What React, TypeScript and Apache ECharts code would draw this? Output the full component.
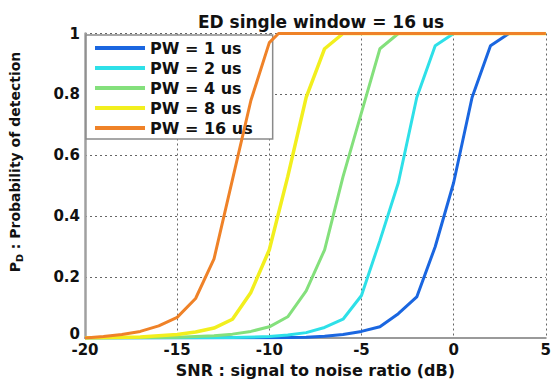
import React, { useEffect, useRef } from "react";
import * as echarts from "echarts";

const titleText = "ED single window = 16 us";
const xName = "SNR : signal to noise ratio (dB)";
const yNameRich = "{a|P}{b|D}{a| : Probability of detection}";
const seriesNames = ["PW = 1 us", "PW = 2 us", "PW = 4 us", "PW = 8 us", "PW = 16 us"];
const seriesColors = ["#1a66e0", "#2ee0e8", "#84e07c", "#f2ef1e", "#ef8228"];

const pw1: [number, number][] = [
  [-20, 0], [-10, 0.001], [-8, 0.003], [-7, 0.006], [-6, 0.012], [-5, 0.022], [-4, 0.037],
  [-3, 0.08], [-2, 0.135], [-1, 0.3], [0, 0.51], [1, 0.79], [2, 0.96], [3, 1], [5, 1],
];
const pw2: [number, number][] = [
  [-20, 0], [-12, 0.002], [-10, 0.005], [-9, 0.01], [-8, 0.018], [-7, 0.035], [-6, 0.062],
  [-5, 0.14], [-4, 0.32], [-3, 0.51], [-2, 0.79], [-1, 0.96], [0, 1], [5, 1],
];
const pw4: [number, number][] = [
  [-20, 0], [-15, 0.003], [-13, 0.008], [-12, 0.013], [-11, 0.022], [-10, 0.037], [-9, 0.07],
  [-8, 0.155], [-7, 0.29], [-6, 0.53], [-5, 0.74], [-4, 0.95], [-3, 1], [5, 1],
];
const pw8: [number, number][] = [
  [-20, 0], [-17, 0.004], [-15, 0.012], [-14, 0.02], [-13, 0.033], [-12, 0.062], [-11, 0.15],
  [-10, 0.29], [-9, 0.53], [-8, 0.79], [-7, 0.95], [-6, 1], [5, 1],
];
const pw16: [number, number][] = [
  [-20, 0], [-19, 0.005], [-18, 0.012], [-17, 0.022], [-16, 0.04], [-15, 0.068], [-14, 0.13],
  [-13, 0.26], [-12, 0.52], [-11, 0.78], [-10, 0.97], [-9.5, 1], [5, 1],
];
const allSeries = [pw1, pw2, pw4, pw8, pw16];

const FONT = "DejaVu Sans";

export default function App() {
  const ref = useRef<HTMLDivElement>(null);
  useEffect(() => {
    if (!ref.current) return;
    const chart = echarts.init(ref.current, undefined, { renderer: "svg" });
    const gridLine = { show: true, lineStyle: { color: "#666", type: [2, 3] as any, width: 1 } };
    const labelStyle = { fontFamily: FONT, fontWeight: "bold", fontSize: 15, color: "#111" };
    chart.setOption({
      animation: false,
      backgroundColor: "#ffffff",
      title: {
        text: titleText,
        left: 316,
        textAlign: "center",
        top: 8,
        textStyle: { fontFamily: FONT, fontWeight: "bold", fontSize: 17, color: "#111" },
      },
      legend: {
        orient: "vertical",
        left: 86,
        top: 35,
        padding: [5, 20, 3, 9],
        itemGap: 4,
        itemWidth: 50,
        itemHeight: 4,
        icon: "rect",
        backgroundColor: "#ffffff",
        borderColor: "#8a8a8a",
        borderWidth: 1.5,
        data: seriesNames,
        textStyle: { fontFamily: FONT, fontWeight: "bold", fontSize: 16, color: "#111" },
      },
      graphic: [
        {
          type: "text",
          x: 15,
          y: 162,
          rotation: Math.PI / 2,
          z: 10,
          style: {
            text: yNameRich,
            align: "center",
            verticalAlign: "middle",
            rich: {
              a: { fontFamily: FONT, fontWeight: "bold", fontSize: 14, fill: "#111", lineHeight: 18 },
              b: { fontFamily: FONT, fontWeight: "bold", fontSize: 9.5, fill: "#111", lineHeight: 18, verticalAlign: "bottom", padding: [8, 0, 0, 0] },
            },
          },
        },
      ],
      grid: { left: 85, right: 6, top: 33.5, bottom: 42 },
      xAxis: {
        type: "value",
        min: -20,
        max: 5,
        interval: 5,
        name: xName,
        nameLocation: "middle",
        nameGap: 20,
        nameTextStyle: { fontFamily: FONT, fontWeight: "bold", fontSize: 16, color: "#111" },
        axisLine: { show: true, onZero: false, lineStyle: { color: "#9a9a9a", width: 2 } },
        axisTick: { show: false },
        axisLabel: { margin: 4, ...labelStyle },
        splitLine: gridLine,
      },
      yAxis: {
        type: "value",
        min: 0,
        max: 1,
        interval: 0.2,
        axisLine: { show: true, onZero: false, lineStyle: { color: "#a0a0a0", width: 2.5 } },
        axisTick: { show: false },
        axisLabel: {
          margin: 5,
          ...labelStyle,
          formatter: (v: number) => (v === 0 ? "{z|0}" : String(Math.round(v * 10) / 10)),
          rich: { z: { ...labelStyle, padding: [0, 0, 9, 0] } },
        },
        splitLine: gridLine,
      },
      series: allSeries.map((d, i) => ({
        name: seriesNames[i],
        type: "line",
        data: d,
        showSymbol: false,
        symbol: "none",
        color: seriesColors[i],
        lineStyle: { color: seriesColors[i], width: i === 3 ? 3.5 : 3 },
        z: 2 + i,
      })),
    });
    return () => chart.dispose();
  }, []);
  return (
    <div
      ref={ref}
      style={{ position: "absolute", left: 0, top: 0, width: 554, height: 383 }}
    />
  );
}
